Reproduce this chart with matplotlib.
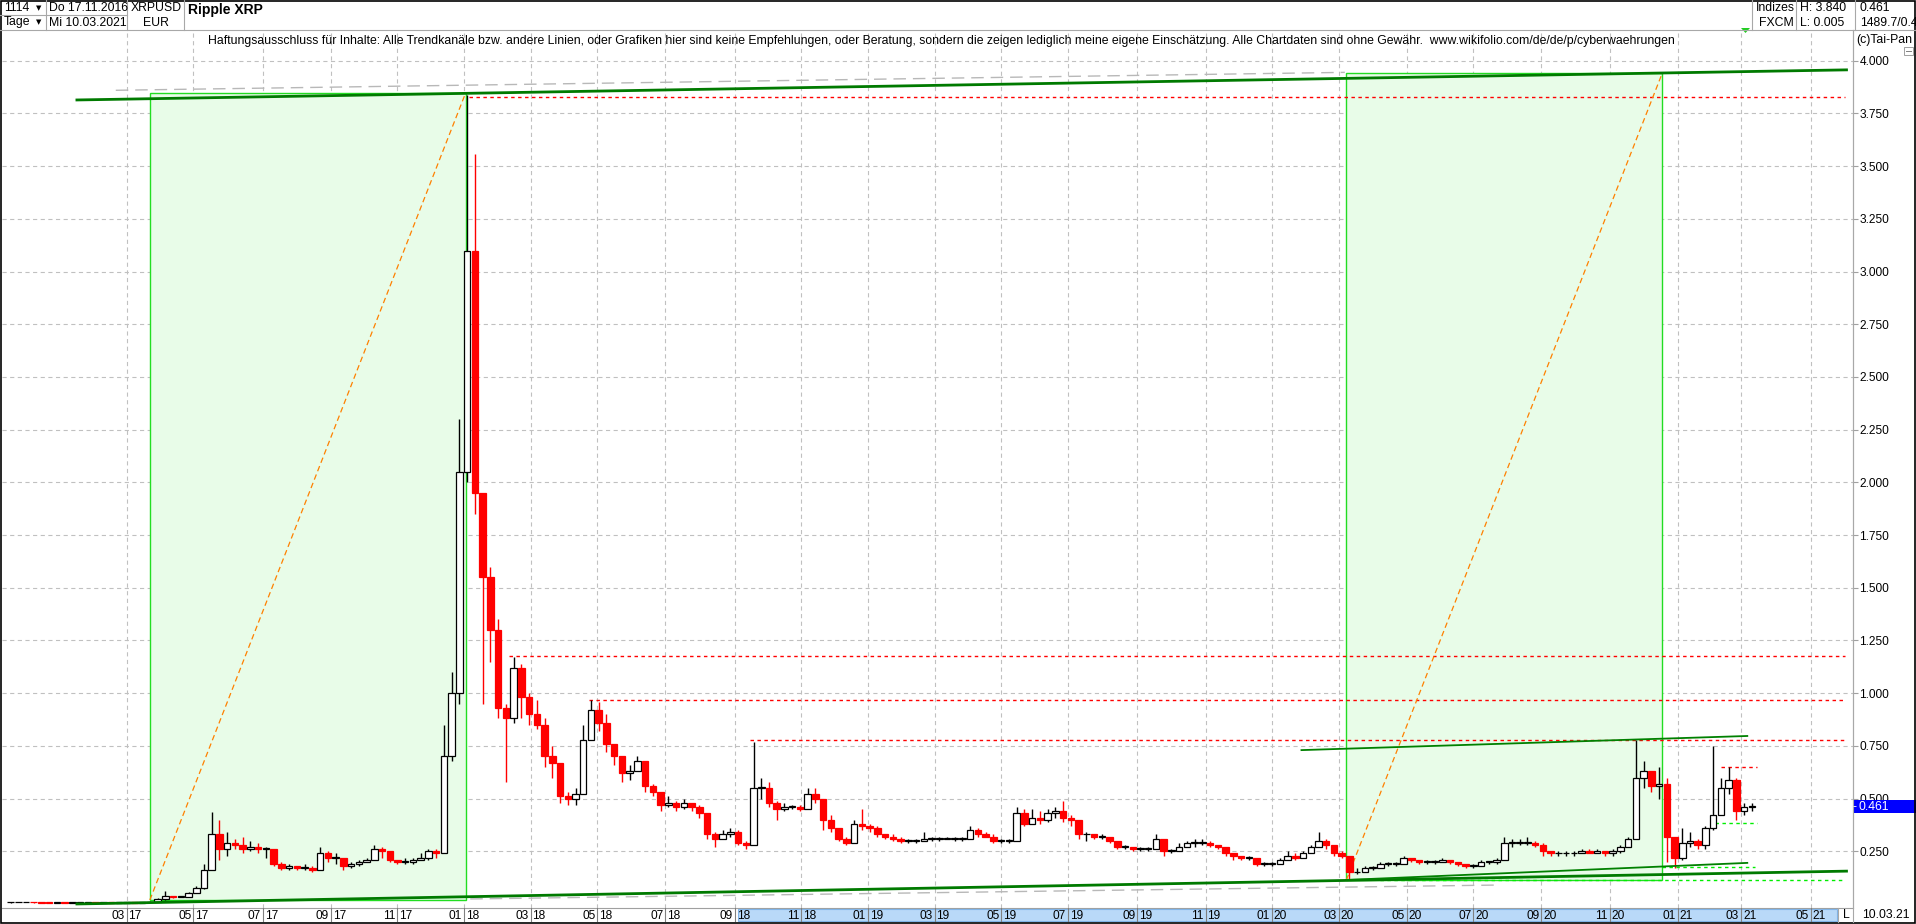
import numpy as np
import pandas as pd
import matplotlib
matplotlib.use('Agg')
import matplotlib.pyplot as plt
from matplotlib.patches import Rectangle, Polygon

plt.rcParams['font.family'] = ['Liberation Sans', 'DejaVu Sans']
plt.rcParams['lines.scale_dashes'] = False

START = '2016-11-17'
LAST = '2021-03-10'

## weekly candles (weeks starting monday 2016-11-14), close / high / low
close = [0.0075, 0.0078, 0.0080, 0.0073, 0.0068, 0.0064, 0.0065,
         0.0063, 0.0066, 0.0068, 0.0068, 0.0064, 0.0064, 0.0063, 0.0063, 0.0070, 0.0068, 0.0075, 0.0110, 0.0230,
         0.038, 0.034, 0.034, 0.050, 0.075, 0.16, 0.33, 0.26, 0.29, 0.28, 0.26, 0.27, 0.26,
         0.26, 0.19, 0.17, 0.18, 0.17, 0.17, 0.16, 0.24, 0.22, 0.22, 0.18, 0.19, 0.20,
         0.21, 0.26, 0.25, 0.21, 0.20, 0.20, 0.21, 0.22, 0.25, 0.24, 0.70, 1.00, 2.05,
         3.10, 1.95, 1.55, 1.30, 0.93, 0.88, 1.12, 0.98, 0.90, 0.85, 0.70, 0.67, 0.51,
         0.50, 0.52, 0.78, 0.92, 0.86, 0.76, 0.70, 0.62, 0.63, 0.68, 0.56, 0.53, 0.47,
         0.48, 0.46, 0.48, 0.46, 0.43, 0.33, 0.31, 0.33, 0.34, 0.29, 0.28, 0.55, 0.55,
         0.48, 0.45, 0.46, 0.46, 0.45, 0.52, 0.50, 0.40, 0.36, 0.31, 0.29, 0.38, 0.37, 0.36,
         0.33, 0.32, 0.31, 0.30, 0.30, 0.30, 0.31, 0.31, 0.31, 0.31, 0.31, 0.31,
         0.35, 0.33, 0.32, 0.30, 0.30, 0.30, 0.43, 0.38, 0.41, 0.40, 0.43, 0.44, 0.41,
         0.40, 0.33, 0.33, 0.32, 0.32, 0.30, 0.27, 0.27, 0.26, 0.26, 0.26, 0.31, 0.25,
         0.25, 0.27, 0.29, 0.29, 0.29, 0.28, 0.27, 0.24, 0.23, 0.22, 0.22, 0.19, 0.19, 0.19,
         0.21, 0.23, 0.22, 0.24, 0.27, 0.30, 0.28, 0.24, 0.23, 0.15, 0.15, 0.17, 0.17,
         0.19, 0.19, 0.19, 0.22, 0.21, 0.20, 0.20, 0.20, 0.21, 0.20, 0.19, 0.18, 0.18,
         0.20, 0.20, 0.21, 0.29, 0.29, 0.29, 0.29, 0.28, 0.25, 0.24, 0.24, 0.24, 0.24,
         0.25, 0.24, 0.25, 0.24, 0.25, 0.27, 0.31, 0.60, 0.63, 0.56, 0.57, 0.32, 0.22,
         0.29, 0.30, 0.28, 0.36, 0.42, 0.55, 0.59, 0.44, 0.46, 0.461]
high = [0.0078, 0.0082, 0.0085, 0.0081, 0.0074, 0.0070, 0.0067,
        0.0068, 0.0069, 0.0071, 0.0070, 0.0069, 0.0066, 0.0065, 0.0066, 0.0076, 0.0074, 0.0085, 0.0140, 0.0280,
        0.060, 0.040, 0.037, 0.055, 0.085, 0.19, 0.436, 0.40, 0.34, 0.31, 0.32, 0.30, 0.29,
        0.27, 0.26, 0.20, 0.19, 0.18, 0.19, 0.18, 0.27, 0.25, 0.24, 0.22, 0.20, 0.21,
        0.22, 0.28, 0.27, 0.25, 0.21, 0.22, 0.22, 0.24, 0.26, 0.26, 0.85, 1.10, 2.30,
        3.84, 3.56, 1.95, 1.60, 1.35, 0.95, 1.17, 1.14, 1.00, 0.97, 0.88, 0.75, 0.67,
        0.53, 0.55, 0.85, 0.97, 0.96, 0.90, 0.76, 0.70, 0.66, 0.70, 0.64, 0.57, 0.52,
        0.51, 0.49, 0.50, 0.48, 0.47, 0.43, 0.34, 0.35, 0.36, 0.35, 0.30, 0.77, 0.60,
        0.58, 0.49, 0.48, 0.47, 0.47, 0.55, 0.55, 0.50, 0.42, 0.36, 0.32, 0.40, 0.45, 0.38,
        0.37, 0.33, 0.33, 0.32, 0.31, 0.31, 0.34, 0.32, 0.32, 0.32, 0.32, 0.32,
        0.37, 0.36, 0.34, 0.33, 0.31, 0.31, 0.46, 0.45, 0.45, 0.44, 0.45, 0.46, 0.49,
        0.42, 0.40, 0.34, 0.33, 0.33, 0.32, 0.29, 0.28, 0.27, 0.27, 0.27, 0.33, 0.29,
        0.26, 0.29, 0.30, 0.31, 0.31, 0.30, 0.28, 0.27, 0.24, 0.23, 0.23, 0.22, 0.20, 0.20,
        0.22, 0.25, 0.24, 0.25, 0.28, 0.34, 0.31, 0.28, 0.25, 0.23, 0.17, 0.18, 0.18,
        0.20, 0.20, 0.20, 0.23, 0.22, 0.21, 0.21, 0.21, 0.22, 0.21, 0.20, 0.19, 0.19,
        0.21, 0.20, 0.22, 0.32, 0.31, 0.31, 0.32, 0.30, 0.29, 0.25, 0.25, 0.25, 0.25,
        0.26, 0.26, 0.26, 0.25, 0.26, 0.28, 0.32, 0.78, 0.68, 0.62, 0.65, 0.60, 0.30,
        0.36, 0.34, 0.31, 0.37, 0.75, 0.60, 0.65, 0.60, 0.48, 0.48]
low = [0.0070, 0.0074, 0.0076, 0.0070, 0.0066, 0.0062, 0.0060,
       0.0059, 0.0061, 0.0064, 0.0065, 0.0062, 0.0061, 0.0061, 0.0061, 0.0062, 0.0064, 0.0066, 0.0075, 0.0105,
       0.021, 0.030, 0.031, 0.033, 0.050, 0.07, 0.16, 0.21, 0.23, 0.26, 0.24, 0.25, 0.24,
       0.22, 0.18, 0.16, 0.16, 0.16, 0.16, 0.15, 0.16, 0.20, 0.19, 0.16, 0.17, 0.18,
       0.20, 0.21, 0.22, 0.20, 0.19, 0.19, 0.19, 0.21, 0.21, 0.22, 0.24, 0.68, 0.95,
       2.00, 1.85, 0.95, 1.15, 0.88, 0.58, 0.86, 0.88, 0.85, 0.83, 0.65, 0.60, 0.48,
       0.47, 0.47, 0.55, 0.80, 0.82, 0.72, 0.66, 0.58, 0.59, 0.64, 0.53, 0.51, 0.44,
       0.46, 0.44, 0.45, 0.44, 0.41, 0.31, 0.27, 0.31, 0.32, 0.28, 0.26, 0.28, 0.50,
       0.46, 0.40, 0.44, 0.45, 0.44, 0.45, 0.48, 0.35, 0.34, 0.30, 0.28, 0.29, 0.35, 0.34,
       0.32, 0.31, 0.30, 0.29, 0.29, 0.29, 0.30, 0.30, 0.30, 0.31, 0.30, 0.30,
       0.31, 0.32, 0.32, 0.29, 0.29, 0.29, 0.30, 0.37, 0.38, 0.38, 0.39, 0.41, 0.39,
       0.37, 0.31, 0.30, 0.31, 0.31, 0.29, 0.26, 0.26, 0.25, 0.25, 0.25, 0.26, 0.23,
       0.24, 0.26, 0.28, 0.27, 0.28, 0.27, 0.26, 0.23, 0.21, 0.21, 0.21, 0.18, 0.18, 0.18,
       0.19, 0.21, 0.21, 0.22, 0.24, 0.27, 0.26, 0.23, 0.22, 0.115, 0.14, 0.15, 0.16,
       0.17, 0.18, 0.18, 0.19, 0.20, 0.19, 0.19, 0.19, 0.20, 0.19, 0.18, 0.17, 0.17,
       0.18, 0.19, 0.19, 0.22, 0.27, 0.28, 0.28, 0.27, 0.23, 0.23, 0.23, 0.23, 0.23,
       0.24, 0.24, 0.24, 0.23, 0.23, 0.24, 0.27, 0.31, 0.55, 0.53, 0.50, 0.20, 0.17,
       0.21, 0.27, 0.26, 0.26, 0.35, 0.42, 0.52, 0.40, 0.42, 0.44]

## chart drawings (Tai-Pan objects)
boxes = [('2017-03-22', '2018-01-02', 0.019, 3.847),
         ('2020-03-09', '2020-12-18', 0.114, 3.94)]
thick_lines = [('2017-01-13', 3.814, '2021-06-04', 3.957),
               ('2017-01-13', 0.000, '2021-06-04', 0.156)]
thin_lines = [('2020-01-28', 0.730, '2021-03-05', 0.797),
              ('2020-03-09', 0.114, '2021-03-05', 0.195)]
grey_lines = [('2017-02-20', 3.860, '2020-03-06', 3.945),
              ('2018-01-05', 0.024, '2020-07-24', 0.090)]
red_levels = [(3.830, '2018-01-04', '2021-06-02'), (1.176, '2018-02-09', '2021-06-02'),
              (0.968, '2018-04-24', '2021-06-02'), (0.778, '2018-09-17', '2021-06-02'),
              (0.650, '2021-02-10', '2021-03-15')]
lime_levels = [(0.114, '2020-04-08', '2021-06-02'), (0.175, '2020-12-18', '2021-03-12'),
               (0.384, '2021-02-04', '2021-03-15')]
month_ticks = pd.date_range('2017-03-01', '2021-05-01', freq='2MS')


def bx(d):
    return np.busday_count(START, np.datetime64(pd.Timestamp(d).date()))


W, H = 1916, 924
fig = plt.figure(figsize=(W / 100, H / 100), dpi=100)
fig.patch.set_facecolor('white')

px_l, px_r, px_t, px_b = 2, 1853, 30, 908
ax = fig.add_axes([px_l / W, 1 - px_b / H, (px_r - px_l) / W, (px_b - px_t) / H])
ax.set_xlim(-6.5, 1189.3)
ax.set_ylim(-0.019, 4.146)

## grid
for v in np.arange(0.25, 4.01, 0.25):
    ax.axhline(v, color='#c0c0c0', lw=0.8, linestyle=(0, (3, 2.5)), zorder=0)
for d in month_ticks:
    ax.axvline(bx(d), color='#c0c0c0', lw=0.8, linestyle=(0, (3, 2.5)), zorder=0)

## boxes with orange diagonals
for d0, d1, v0, v1 in boxes:
    ax.add_patch(Rectangle((bx(d0), v0), bx(d1) - bx(d0), v1 - v0, facecolor='#e8fce8',
                           edgecolor='#22dd22', lw=1.0, zorder=1))
    ax.plot([bx(d0), bx(d1)], [v0, v1], color='#ff8000', lw=0.9, linestyle=(0, (4, 2.5)), zorder=5)

for d0, v0, d1, v1 in grey_lines:
    ax.plot([bx(d0), bx(d1)], [v0, v1], color='#b8b8b8', lw=1.0, linestyle=(0, (9, 5)), zorder=2)
for v, d0, d1 in red_levels:
    ax.plot([bx(d0), bx(d1)], [v, v], color='#ff0000', lw=1.0, linestyle=(0, (2.5, 2.5)), zorder=2)
for v, d0, d1 in lime_levels:
    ax.plot([bx(d0), bx(d1)], [v, v], color='#00ee00', lw=1.0, linestyle=(0, (2.5, 2.5)), zorder=2)

## candles
weeks = pd.date_range('2016-11-14', periods=len(close), freq='W-MON')
xc = np.array([bx(w) for w in weeks]) + 2.0
opens = np.array([0.0072] + close[:-1])
cl = np.array(close)
up = cl >= opens
body_lo = np.minimum(opens, cl)
body_h = np.maximum(np.abs(cl - opens), 0.004)
wick_col = np.where(up, 'black', 'red')
ax.vlines(xc, low, high, colors=wick_col, lw=1.0, zorder=6)
ax.bar(xc, body_h, bottom=body_lo, width=4.2, color=np.where(up, 'white', 'red'),
       edgecolor=np.where(up, 'black', 'red'), linewidth=0.9, zorder=7)

## trend lines
for d0, v0, d1, v1 in thick_lines:
    ax.plot([bx(d0), bx(d1)], [v0, v1], color='#007a00', lw=2.0, solid_capstyle='butt', zorder=8)
for d0, v0, d1, v1 in thin_lines:
    ax.plot([bx(d0), bx(d1)], [v0, v1], color='#008000', lw=1.3, zorder=8)

## axis styling
ax.set_xticks([])
ax.yaxis.tick_right()
ax.set_yticks(np.arange(0.25, 4.01, 0.25))
ax.set_yticklabels(['%.3f' % v for v in np.arange(0.25, 4.01, 0.25)])
ax.tick_params(axis='y', length=3.5, width=0.8, color='#a0a0a0', pad=1.2, labelsize=8.6)
for s in ['left', 'top']:
    ax.spines[s].set_visible(False)
ax.spines['right'].set_color('#b4b4b4')
ax.spines['bottom'].set_color('#a0a0a0')

## date strip
sx = fig.add_axes([px_l / W, 1 - 922 / H, (px_r - px_l) / W, (922 - px_b) / H], sharex=ax)
sx.set_ylim(0, 1)
sx.axis('off')
sx.add_patch(Rectangle((0.3976, 0.05), 0.594, 0.9, transform=sx.transAxes,
                       facecolor='#b9d9f8', edgecolor='#80b4e8', lw=0.8))
for d in month_ticks:
    x = bx(d)
    sx.plot([x, x], [0, 1], color='#808080', lw=0.8)
    sx.text(x - 1.2, 0.45, d.strftime('%m'), ha='right', va='center', fontsize=8.6)
    sx.text(x + 1.2, 0.45, d.strftime('%y'), ha='left', va='center', fontsize=8.6)

## overlay for header / frame
ov = fig.add_axes([0, 0, 1, 1], zorder=10)
ov.set_xlim(0, W)
ov.set_ylim(H, 0)
ov.axis('off')
ov.patch.set_alpha(0)

gc = '#a8a8a8'
ov.plot([0, W], [30, 30], color=gc, lw=0.8)
ov.plot([0, 127], [15, 15], color=gc, lw=0.8)
for x in [46, 127, 184]:
    ov.plot([x, x], [0, 30], color=gc, lw=0.8)
for x in [1752, 1796, 1855]:
    ov.plot([x, x], [0, 30], color=gc, lw=0.8)
ov.plot([1838, 1838], [908, 922], color=gc, lw=0.8)
ov.plot([1853, 1853], [30, 922], color=gc, lw=0.8)

fs = 8.8
ov.text(4, 8, '1114', fontsize=fs, va='center')
ov.text(4, 22.5, 'Tage', fontsize=fs, va='center')
ov.text(36, 8, '\u25bc', fontsize=5, va='center', family=['DejaVu Sans'])
ov.text(36, 22.5, '\u25bc', fontsize=5, va='center', family=['DejaVu Sans'])
ov.text(49, 8, 'Do 17.11.2016', fontsize=fs, va='center')
ov.text(49, 22.5, 'Mi 10.03.2021', fontsize=fs, va='center')
ov.text(156, 8, 'XRPUSD', fontsize=fs, va='center', ha='center')
ov.text(156, 22.5, 'EUR', fontsize=fs, va='center', ha='center')
ov.text(188, 10, 'Ripple XRP', fontsize=10, va='center', fontweight='bold')
ov.text(1756, 8, 'Indizes', fontsize=fs, va='center')
ov.text(1759, 22.5, 'FXCM', fontsize=fs, va='center')
ov.text(1800, 8, 'H: 3.840', fontsize=fs, va='center')
ov.text(1800, 22.5, 'L: 0.005', fontsize=fs, va='center')
ov.text(1860, 8, '%.3f' % close[-1], fontsize=fs, va='center')
ov.text(1860, 22.5, '1489.7/0.4', fontsize=fs, va='center')
ov.text(941, 41, 'Haftungsausschluss für Inhalte: Alle Trendkanäle bzw. andere Linien, oder Grafiken hier sind '
        'keine Empfehlungen, oder Beratung, sondern die zeigen lediglich meine eigene Einschätzung. Alle '
        'Chartdaten sind ohne Gewähr.  www.wikifolio.com/de/de/p/cyberwaehrungen',
        fontsize=8.8, ha='center', va='center')
ov.text(1856, 40, '(c)Tai-Pan', fontsize=fs, va='center')
ov.add_patch(Rectangle((1904, 47), 9, 8, facecolor='white', edgecolor='#a0a0a0', lw=0.7))
ov.plot([1906, 1911], [51, 51], color='#808080', lw=0.7)
ov.add_patch(Polygon([[1741, 28], [1750, 28], [1745.5, 33]], closed=True, facecolor='#22cc22',
                     edgecolor='none'))

## last price marker
yv = ax.transData.transform((0, close[-1]))[1]
ypx = H - yv
ov.add_patch(Rectangle((1854, ypx - 6.5), 62, 13, facecolor='#0000ff', edgecolor='none'))
ov.text(1853, ypx, '-', color='white', fontsize=fs, va='center')
ov.text(1859, ypx, '%.3f' % close[-1], color='white', fontsize=fs, va='center')

ov.text(1843, 915, 'L', fontsize=fs, va='center')
ov.text(1862, 915, '10.03.21', fontsize=fs, va='center')
ov.add_patch(Rectangle((0.5, 0.5), W - 1.5, H - 1.5, facecolor='none', edgecolor='black', lw=1.2))

fig.savefig('out.png', dpi=100)
